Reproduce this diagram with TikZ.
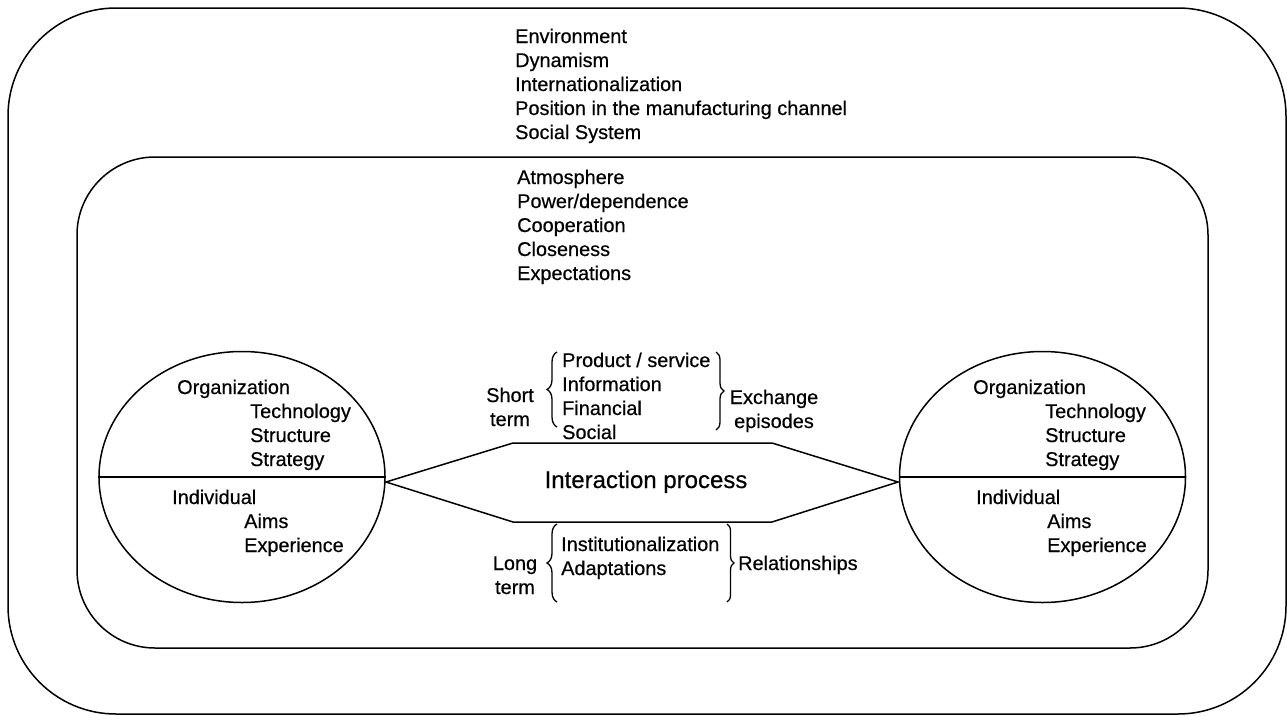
\documentclass[tikz,border=0pt]{standalone}
\usepackage{fontspec}
\setmainfont{Liberation Sans}[FakeBold=0.5]
\usetikzlibrary{shapes.geometric,decorations.pathreplacing}
\tikzset{
  txt/.style={anchor=base west, inner sep=0pt, font=\fontsize{19.9}{24}\selectfont},
  ctxt/.style={anchor=base, inner sep=0pt, font=\fontsize{19.9}{24}\selectfont},
  ln/.style={line width=1.5pt},
  party/.style={ellipse, draw, ln, minimum width=286pt, minimum height=251pt, inner sep=0pt},
  bracedeco/.style={decorate, decoration={brace, amplitude=#1, aspect=0.5}, line width=1.3pt},
}
\begin{document}
\begin{tikzpicture}[x=1pt, y=-1pt]
\useasboundingbox (0,0) rectangle (1287,715);
\fill[white] (0,0) rectangle (1287,715);
% frames
\draw[ln, rounded corners=108pt] (8,8) rectangle (1286,714);
\draw[ln, rounded corners=78pt] (77,157) rectangle (1208,648);
% environment
\node[txt] (env1) at (515,43) {Environment};
\node[txt] (env2) at (515,67) {Dynamism};
\node[txt] (env3) at (515,91) {Internationalization};
\node[txt] (env4) at (515,115) {Position in the manufacturing channel};
\node[txt] (env5) at (515,139) {Social System};
% atmosphere
\node[txt] (atm1) at (517,184) {Atmosphere};
\node[txt] (atm2) at (517,208) {Power/dependence};
\node[txt] (atm3) at (517,232) {Cooperation};
\node[txt] (atm4) at (517,256) {Closeness};
\node[txt] (atm5) at (517,280) {Expectations};
% parties
\node[party] (L) at (242,477) {};
\node[party] (R) at (1042.5,477) {};
\draw[ln] (L.west) -- (L.east);
\draw[ln] (R.west) -- (R.east);
\node[txt] (lo) at (177,394) {Organization};
\node[txt] (lt) at (250,418) {Technology};
\node[txt] (ls) at (250,442) {Structure};
\node[txt] (lg) at (250,466) {Strategy};
\node[txt] (li) at (172,504) {Individual};
\node[txt] (la) at (244,528) {Aims};
\node[txt] (le) at (244,552) {Experience};
\node[txt] (ro) at (973,394) {Organization};
\node[txt] (rt) at (1045,418) {Technology};
\node[txt] (rs) at (1045,442) {Structure};
\node[txt] (rg) at (1045,466) {Strategy};
\node[txt] (ri) at (976,504) {Individual};
\node[txt] (ra) at (1047,528) {Aims};
\node[txt] (re) at (1047,552) {Experience};
% interaction process hexagon
\coordinate (hl) at (386,482);
\coordinate (htl) at (513,443);
\coordinate (htr) at (772,443);
\coordinate (hr) at (898,482);
\coordinate (hbr) at (772,522);
\coordinate (hbl) at (513,522);
\draw[ln, line join=miter] (hl) -- (htl) -- (htr) -- (hr) -- (hbr) -- (hbl) -- cycle;
\node[ctxt, font=\fontsize{24}{28}\selectfont] (ip) at (646,488) {Interaction process};
% short term episodes
\node[ctxt] (st1) at (510,402) {Short};
\node[ctxt] (st2) at (510,426) {term};
\node[txt] (ep1) at (562,367) {Product / service};
\node[txt] (ep2) at (562,391) {Information};
\node[txt] (ep3) at (562,415) {Financial};
\node[txt] (ep4) at (562,439) {Social};
\node[ctxt] (ex1) at (774,404) {Exchange};
\node[ctxt] (ex2) at (774,428) {episodes};
\coordinate (b1a) at (557,427);
\coordinate (b1b) at (557,352);
\coordinate (b2a) at (716,352);
\coordinate (b2b) at (716,430);
\draw[bracedeco=10pt] (b1a) -- (b1b);
\draw[bracedeco=8pt] (b2a) -- (b2b);
% long term relationships
\node[ctxt] (lt1) at (515,570) {Long};
\node[ctxt] (lt2) at (515,594) {term};
\node[txt] (rl1) at (561,551) {Institutionalization};
\node[txt] (rl2) at (561,575) {Adaptations};
\node[txt] (rel) at (738,570) {Relationships};
\coordinate (b3a) at (557,602);
\coordinate (b3b) at (557,524);
\coordinate (b4a) at (727,524);
\coordinate (b4b) at (727,602);
\draw[bracedeco=10pt] (b3a) -- (b3b);
\draw[bracedeco=7pt] (b4a) -- (b4b);
\end{tikzpicture}
\end{document}
